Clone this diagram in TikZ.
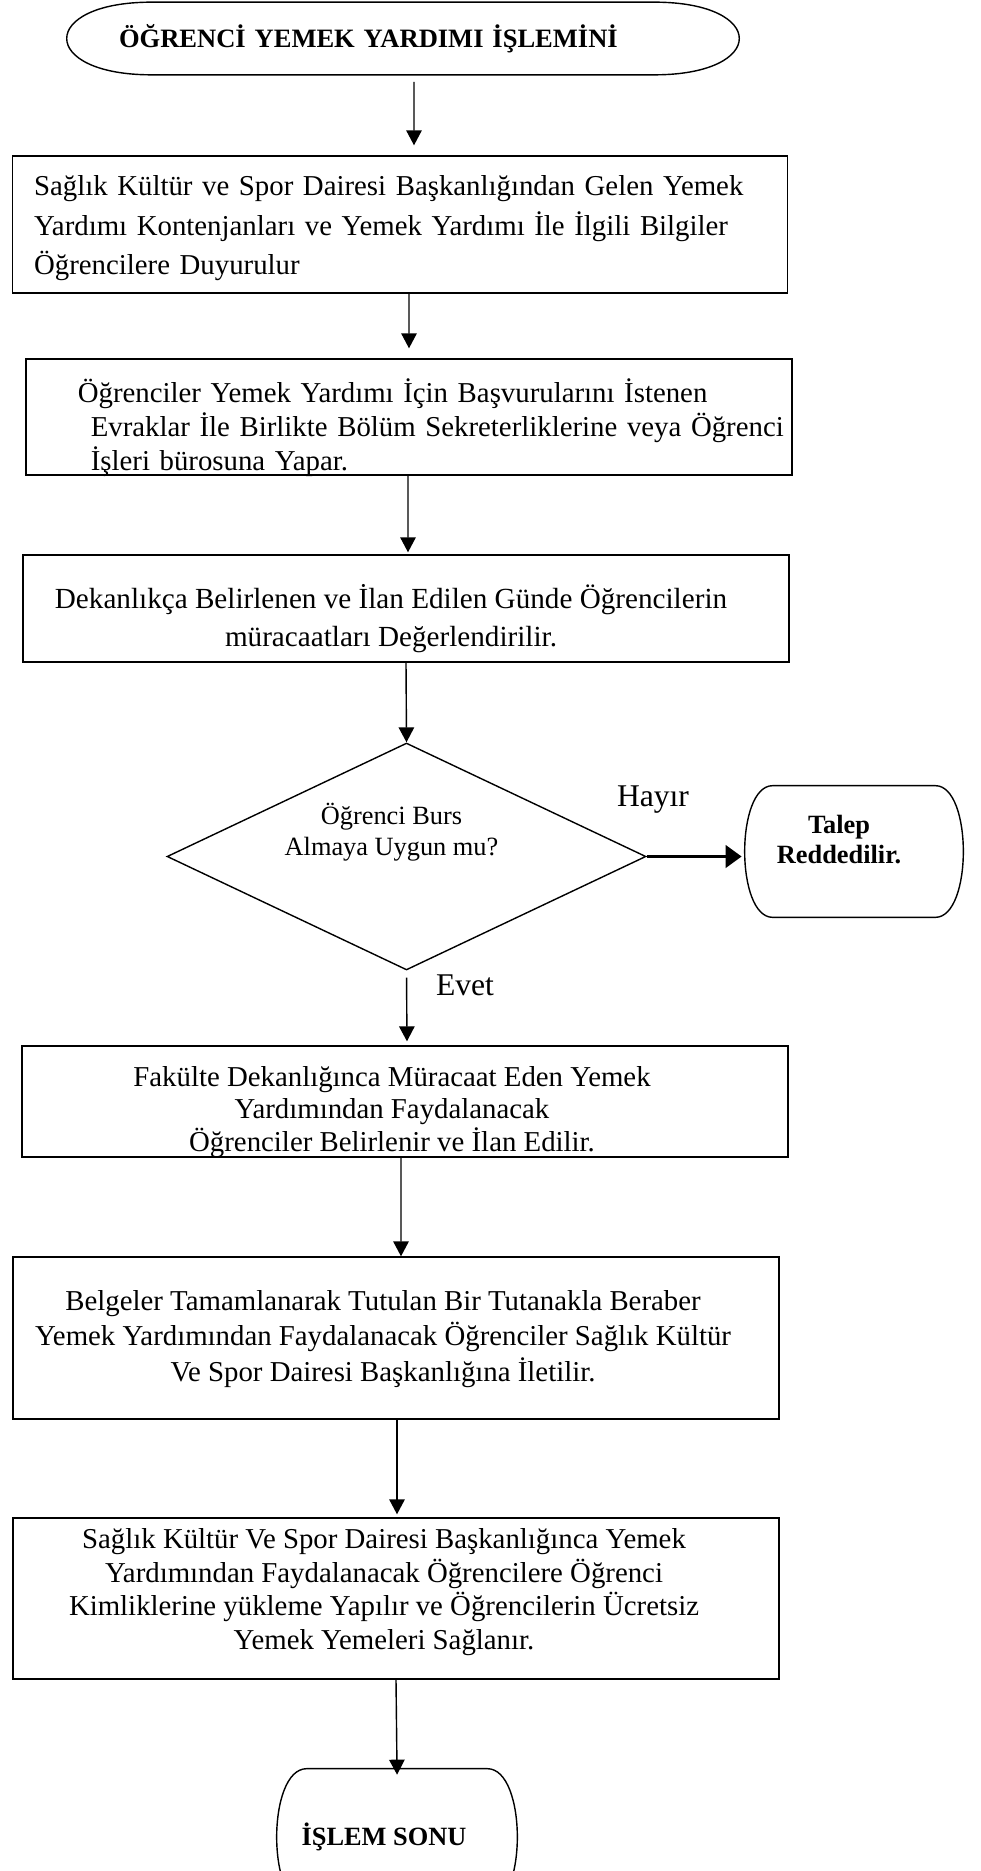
\documentclass[tikz,border=0pt]{standalone}
\usepackage{fontspec}
\setmainfont{Liberation Serif}
\usepackage{tikz}
\usetikzlibrary{shapes,arrows.meta,positioning}
\tikzstyle{box} = [rectangle, draw=black, line width=0.8pt, inner sep=0pt, minimum width=15.33cm]
\tikzstyle{btext} = [align=center, inner sep=0pt]
\tikzstyle{term} = [rectangle, draw=none, inner sep=0pt, align=center, font=\bfseries\fontsize{15}{17}\selectfont]
\tikzstyle{decision} = [diamond, draw=black, line width=0.8pt, aspect=2, inner sep=0pt, minimum width=9.58cm, minimum height=4.54cm]
\tikzstyle{dtext} = [align=center, inner sep=0pt, font=\fontsize{15}{17.6}\selectfont]
\tikzstyle{ttext} = [align=center, inner sep=0pt, font=\bfseries\fontsize{15}{17}\selectfont]
\tikzstyle{textonly} = [draw=none, fill=none, inner sep=0pt, font=\fontsize{18}{21}\selectfont]
\tikzstyle{tedge}  = [draw, line width=0.8pt, -{Triangle[length=0.3cm, width=0.31cm]}]
\tikzstyle{redge}  = [draw, line width=2.2pt, -{Triangle[length=0.32cm, width=0.44cm]}]
% outline of a terminal node: flat top and bottom, bulging sides
\newcommand{\termline}[2]{%
  \draw[line width=0.8pt] ([xshift=#2]#1.north west) -- ([xshift=-#2]#1.north east)
    .. controls ([xshift=#2/3]#1.north east) and ([xshift=#2/3]#1.south east) .. ([xshift=-#2]#1.south east)
    -- ([xshift=#2]#1.south west)
    .. controls ([xshift=-#2/3]#1.south west) and ([xshift=-#2/3]#1.north west) .. ([xshift=#2]#1.north west) -- cycle;}
\begin{document}
\begin{tikzpicture}[x=0.02cm, y=-0.02cm]
\useasboundingbox (0,0) rectangle (980,1871);

% nodes =============================
\node[term, align=left, inner xsep=1.04cm, text width=11.36cm, minimum height=1.44cm, font=\bfseries\fontsize{15.1}{18}\selectfont] (start) at (403,38.5) {ÖĞRENCİ YEMEK YARDIMI İŞLEMİNİ};
\node[box, minimum width=15.5cm, minimum height=2.74cm, label={[btext, align=left, text width=14.64cm, yshift=-0.08cm, font=\fontsize{16.4}{22.5}\selectfont]center:Sağlık Kültür ve Spor Dairesi Başkanlığından Gelen Yemek\\Yardımı Kontenjanları ve Yemek Yardımı İle İlgili Bilgiler\\Öğrencilere Duyurulur}] (duyuru) at (400,224.5) {};
\node[box, minimum height=2.32cm, label={[btext, align=left, text width=15.33cm, yshift=-0.21cm, font=\fontsize{16.4}{19.4}\selectfont]center:\hspace*{29.6pt}Öğrenciler Yemek Yardımı İçin Başvurularını İstenen\\\hspace*{37pt}Evraklar İle Birlikte Bölüm Sekreterliklerine veya Öğrenci\\\hspace*{37pt}İşleri bürosuna Yapar.}] (basvuru) at (409,417) {};
\node[box, minimum height=2.14cm, label={[btext, xshift=-0.3cm, yshift=-0.2cm, font=\fontsize{16.6}{21.2}\selectfont]center:Dekanlıkça Belirlenen ve İlan Edilen Günde Öğrencilerin\\müracaatları Değerlendirilir.}] (deger) at (406,608.5) {};
\node[decision, label={[dtext, xshift=-0.3cm, yshift=0.48cm]center:Öğrenci Burs\\Almaya Uygun mu?}] (karar) at (406.5,856.5) {};
\node[term, minimum width=4.36cm, minimum height=2.62cm, label={[ttext, xshift=-0.3cm, yshift=0.24cm]center:Talep\\Reddedilir.}] (red) at (854,851.5) {};
\node[box, minimum height=2.22cm, label={[btext, xshift=-0.26cm, yshift=-0.21cm, font=\fontsize{16.4}{18.5}\selectfont]center:Fakülte Dekanlığınca Müracaat Eden Yemek\\Yardımından Faydalanacak\\Öğrenciler Belirlenir ve İlan Edilir.}] (ilan) at (405,1101.5) {};
\node[box, minimum height=3.24cm, label={[btext, xshift=-0.26cm, yshift=-0.02cm, font=\fontsize{16.4}{20}\selectfont]center:Belgeler Tamamlanarak Tutulan Bir Tutanakla Beraber\\Yemek Yardımından Faydalanacak Öğrenciler Sağlık Kültür\\Ve Spor Dairesi Başkanlığına İletilir.}] (ilet) at (396,1338) {};
\node[box, minimum height=3.22cm, label={[btext, xshift=-0.24cm, yshift=0.13cm, font=\fontsize{16.4}{19.2}\selectfont]center:Sağlık Kültür Ve Spor Dairesi Başkanlığınca Yemek\\Yardımından Faydalanacak Öğrencilere Öğrenci\\Kimliklerine yükleme Yapılır ve Öğrencilerin Ücretsiz\\Yemek Yemeleri Sağlanır.}] (yukle) at (396,1598.5) {};
\node[term, minimum width=4.8cm, minimum height=2.72cm, label={[ttext, xshift=-0.26cm]center:İŞLEM SONU}] (son) at (397,1837) {};
\node[textonly] (hayir) at (653,800) {Hayır};
\node[textonly] (evet) at (465,985) {Evet};

\termline{start}{1.7cm}
\termline{red}{0.56cm}
\termline{son}{0.6cm}

% edges
\path[tedge, shorten <=0.14cm, shorten >=0.2cm] ([xshift=0.22cm]start.south) -- ([xshift=0.28cm]duyuru.north);
\path[tedge, shorten >=0.2cm] ([xshift=0.18cm]duyuru.south) -- (basvuru.north);
\path[tedge, shorten >=0.04cm] ([xshift=-0.02cm]basvuru.south) -- ([xshift=0.04cm]deger.north);
\path[tedge] (deger.south) -- (karar.north);
\path[tedge, shorten <=0.14cm, shorten >=0.08cm] (karar.south) -- ([xshift=0.04cm]ilan.north);
\path[tedge] ([xshift=-0.08cm]ilan.south) -- ([xshift=0.1cm]ilet.north);
\path[tedge, shorten >=0.06cm] ([xshift=0.02cm]ilet.south) -- ([xshift=0.02cm]yukle.north);
\path[tedge, shorten >=-0.12cm] (yukle.south) -- (son.north);
\path[redge, shorten >=0.06cm] (karar.east) -- (karar.east -| red.west);

\end{tikzpicture}
\end{document}
